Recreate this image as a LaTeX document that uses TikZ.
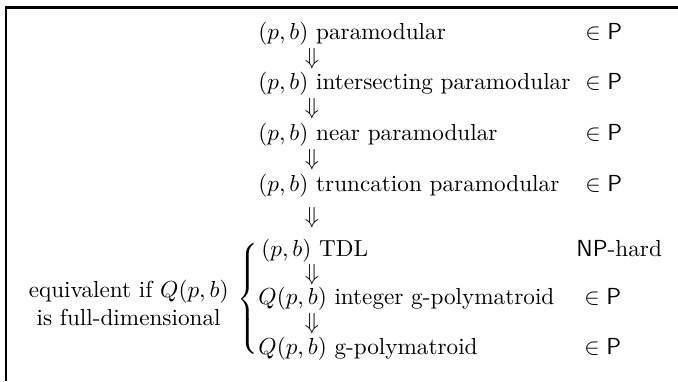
\documentclass[tikz,border=0pt]{standalone}
\usepackage{amsmath}
\usepackage{tikz}
\usetikzlibrary{arrows.meta}
\tikzset{
  rowtext/.style={anchor=base west,inner sep=0pt,text height=7.5pt,text depth=2.5pt},
  classtext/.style={anchor=base west,inner sep=0pt},
  implies/.style={inner sep=0pt}
}
\newcommand{\pbrow}[6]{%
  \node[rowtext] (#1) at (#2,#3) {#4};%
  \node[classtext] (#1c) at (#5,#3) {#6};%
}

\begin{document}
\begin{tikzpicture}[x=0.01515cm,y=-0.01515cm]
  \useasboundingbox (0,0) rectangle (678,381);
  \draw[line width=1pt] (6,381) -- (6,7.5) -- (678,7.5);
  \pbrow{pm}{258}{39}{$(p,b)$ paramodular}{585}{$\in\mathsf{P}$}
  \pbrow{ipm}{258}{89}{$(p,b)$ intersecting paramodular}{585}{$\in\mathsf{P}$}
  \pbrow{npm}{258}{140}{$(p,b)$ near paramodular}{585}{$\in\mathsf{P}$}
  \pbrow{tpm}{258}{191}{$(p,b)$ truncation paramodular}{585}{$\in\mathsf{P}$}
  \pbrow{tdl}{261}{256}{$(p,b)$ TDL}{576}{$\mathsf{NP}$-hard}
  \pbrow{igp}{258}{304}{$Q(p,b)$ integer g-polymatroid}{584}{$\in\mathsf{P}$}
  \pbrow{gp}{258}{354}{$Q(p,b)$ g-polymatroid}{584}{$\in\mathsf{P}$}
  % implications
  \coordinate (ax) at (312,0);
  \foreach \a/\b in {pm/ipm,ipm/npm,npm/tpm,tpm/tdl,tdl/igp,igp/gp}
    \path (\a.south -| ax) -- (\b.north -| ax) node[implies,midway] (\a-\b) {$\Downarrow$};
  % brace and condition
  \node[inner sep=0pt,anchor=west] (brace) at (237,299) {$\nulldelimiterspace=0pt\left\{\vcenter{\hbox{\rule{0pt}{48pt}}}\right.$};
  \node[align=center,inner sep=0pt,anchor=east] (equiv) at (229,303) {equivalent if $Q(p,b)$\\ is full-dimensional};
\end{tikzpicture}
\end{document}
